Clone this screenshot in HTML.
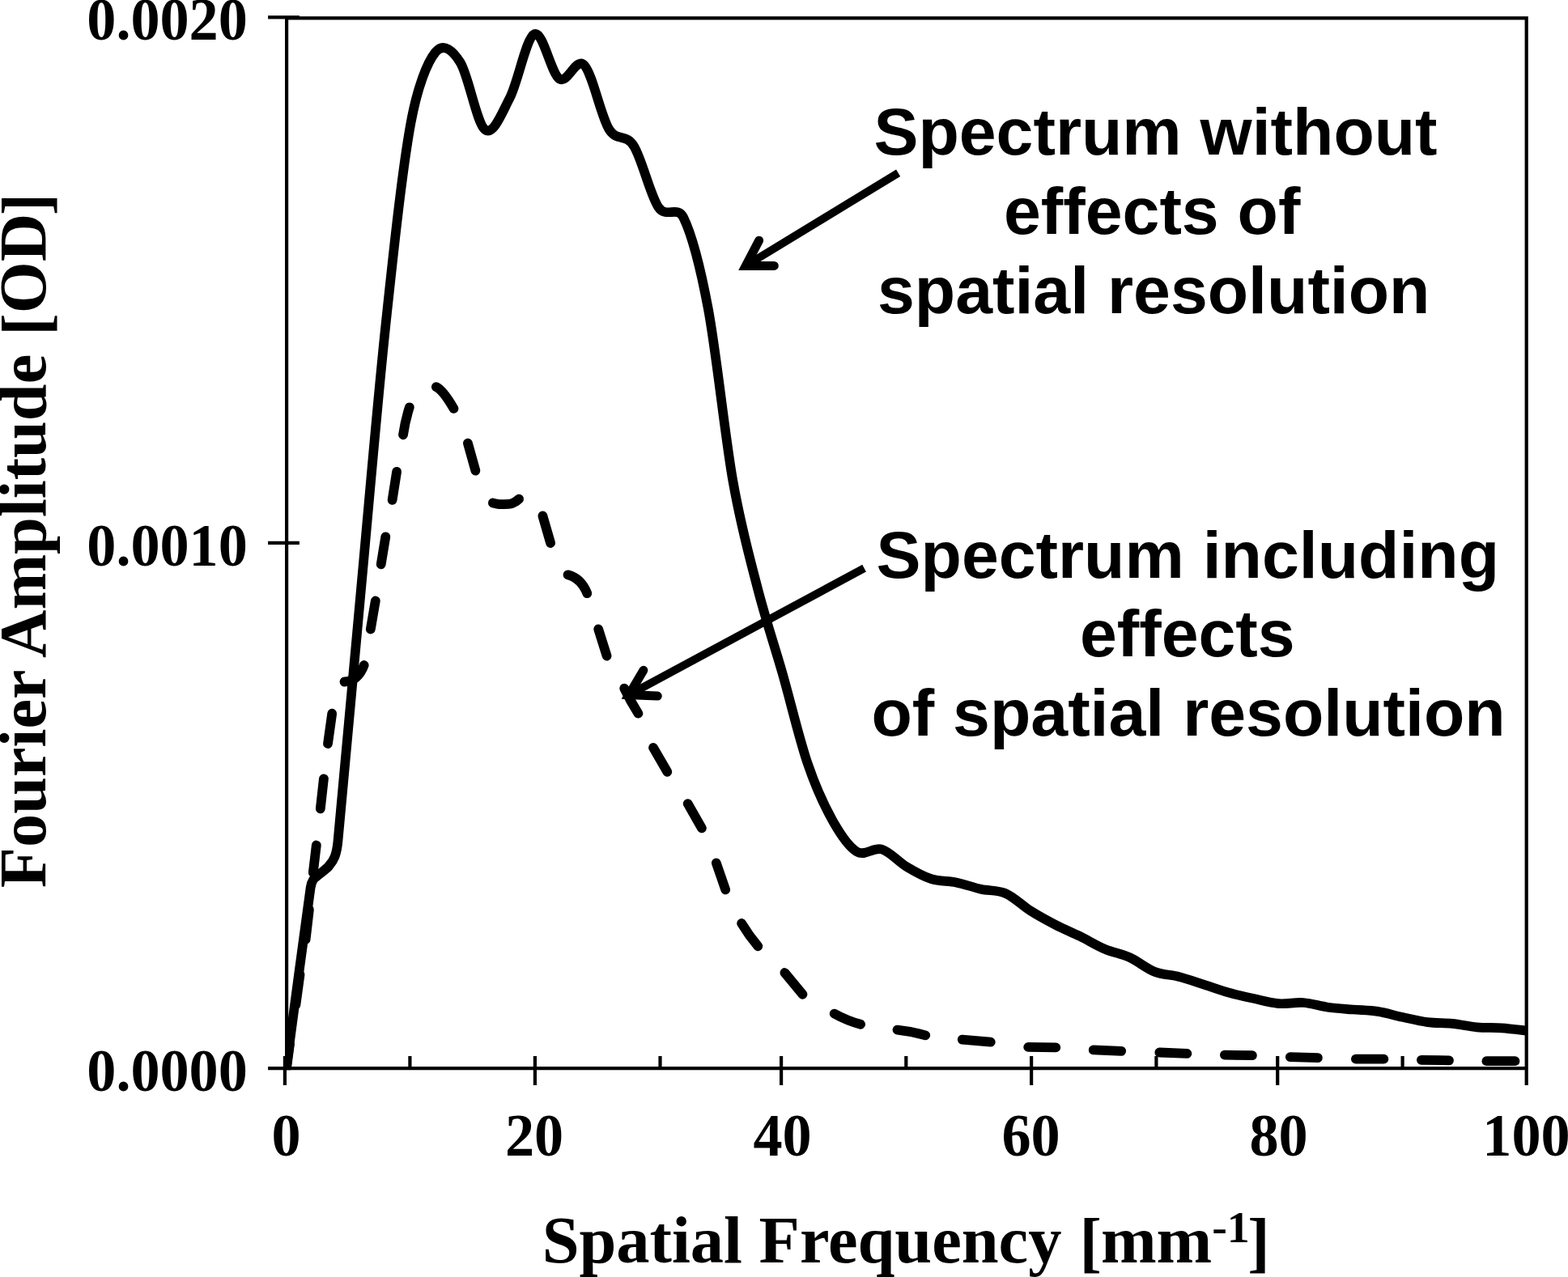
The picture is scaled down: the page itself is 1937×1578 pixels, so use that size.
<!DOCTYPE html>
<html><head><meta charset="utf-8"><title>Fourier Amplitude vs Spatial Frequency</title>
<style>html,body{margin:0;padding:0;background:#fff;overflow:hidden}svg{display:block}text{fill:#000}.ser{font-family:"Liberation Serif",serif;font-weight:bold}.san{font-family:"Liberation Sans",sans-serif;font-weight:bold}</style></head><body>
<svg width="1937" height="1578" viewBox="0 0 1937 1578">
<rect width="1937" height="1578" fill="#fff"/>

<g class="ser" font-size="72.2" text-anchor="end">
<text transform="translate(305.8 49.3) scale(1 1.02)">0.0020</text>
<text transform="translate(305.8 698.9) scale(1 1.02)">0.0010</text>
<text transform="translate(305.8 1347.5) scale(1 1.02)">0.0000</text>
</g>
<g class="ser" font-size="72.2" text-anchor="middle">
<text transform="translate(353.5 1427.8) scale(1 1.02)">0</text>
<text transform="translate(660 1427.8) scale(1 1.02)">20</text>
<text transform="translate(966.5 1427.8) scale(1 1.02)">40</text>
<text transform="translate(1273.5 1427.8) scale(1 1.02)">60</text>
<text transform="translate(1579.5 1427.8) scale(1 1.02)">80</text>
<text transform="translate(1885.5 1427.8) scale(1 1.02)">100</text>
</g>
<text class="ser" font-size="82.4" transform="translate(669.7 1559.8) scale(1 0.995)">Spatial Frequency <tspan dy="2.6" dx="1.5">[</tspan><tspan dy="-2.6" dx="-1">mm</tspan><tspan font-size="56" dy="-24.5">-1</tspan><tspan dy="27.1" dx="-2.6">]</tspan></text>
<text class="ser" font-size="82.35" transform="translate(56.2 1097.3) rotate(-90)">Fourier Amplitude <tspan dx="2.5" dy="3">[</tspan><tspan dy="-3">OD</tspan><tspan dx="-2.5" dy="3">]</tspan></text>
<g class="san" font-size="82.45" text-anchor="middle">
<text x="1427.5" y="191">Spectrum without</text>
<text x="1423.2" y="289">effects of</text>
<text x="1425.2" y="387">spatial resolution</text>
<text x="1467.3" y="713.6">Spectrum including</text>
<text x="1466.8" y="811.1">effects</text>
<text x="1468" y="909.1">of spatial resolution</text>
</g>

<g stroke="#000" stroke-width="4.20" fill="none" stroke-linecap="butt">
<path d="M354.1 22.4H1885.7V1341.0"/>
<path d="M354.1 20.3V1320.1"/>
<path d="M331.1 1320.1H1885.7"/>
<path d="M351.9 1305.0V1341.0"/>
<path d="M506.4 1305.0V1320.1"/>
<path d="M660.9 1305.0V1341.0"/>
<path d="M815.5 1305.0V1320.1"/>
<path d="M965.1 1305.0V1341.0"/>
<path d="M1119.3 1305.0V1320.1"/>
<path d="M1274.1 1305.0V1341.0"/>
<path d="M1428.4 1305.0V1320.1"/>
<path d="M1578.2 1305.0V1341.0"/>
<path d="M1732.6 1305.0V1320.1"/>
<path d="M331.1 670.9H369.9"/>
<path d="M331.1 21.4H369.9"/>
</g>
<clipPath id="plot"><rect x="352" y="20.3" width="1536" height="1302"/></clipPath>
<g clip-path="url(#plot)">
<g stroke="#000" stroke-width="11.80" fill="none" stroke-linecap="round" stroke-linejoin="round">
<path d="M354.0 1320.0L358.0 1290.0"/>
<path d="M365.4 1241.6L370.5 1204.4"/>
<path d="M377.6 1161.0L381.9 1123.9"/>
<path d="M386.8 1078.3L390.8 1044.5"/>
<path d="M395.8 999.4L399.9 962.3"/>
<path d="M405.0 919.0L410.2 881.7"/>
<path d="M425.5 842.5Q442.5 841.6 449.7 822.0"/>
<path d="M457.8 777.5L463.8 742.5"/>
<path d="M470.7 697.4L476.3 663.3"/>
<path d="M484.6 617.9L490.1 582.8"/>
<path d="M498.0 537.3Q500.5 520.0 505.8 503.3"/>
<path d="M538.9 478.1Q547.3 482.0 560.5 504.9"/>
<path d="M577.9 547.7L587.4 581.7"/>
<path d="M608.9 621.5C609.9 621.7 612.6 622.6 615.0 622.9C617.4 623.2 620.3 623.1 623.0 623.1C625.7 623.1 628.8 623.1 631.0 622.6C633.2 622.1 634.8 621.1 636.5 620.1C638.2 619.1 640.3 617.2 641.1 616.6"/>
<path d="M670.4 637.5L680.1 671.0"/>
<path d="M701.5 710.3Q717.8 714.6 725.3 733.2"/>
<path d="M739.2 777.5L749.6 810.5"/>
<path d="M771.2 850.6Q778.9 866.6 788.4 881.6"/>
<path d="M807.0 923.9L824.3 953.8"/>
<path d="M849.7 993.1L866.9 1023.4"/>
<path d="M884.8 1066.4L896.2 1099.4"/>
<path d="M916.1 1141.0Q925.1 1156.0 936.3 1169.3"/>
<path d="M969.4 1202.0L991.5 1228.8"/>
<path d="M1030.7 1252.6Q1046.1 1261.1 1063.1 1265.8"/>
<path d="M1108.5 1272.6Q1126.2 1274.4 1143.2 1279.4"/>
<path d="M1188.7 1284.6L1223.8 1287.7"/>
<path d="M1270.2 1293.9L1304.3 1294.3"/>
<path d="M1350.7 1297.4L1385.2 1298.8"/>
<path d="M1432.3 1300.5L1466.4 1301.9"/>
<path d="M1512.9 1303.6L1546.9 1304.2"/>
<path d="M1593.8 1306.2L1627.9 1307.1"/>
<path d="M1674.9 1308.7L1709.4 1308.7"/>
<path d="M1755.9 1309.8L1790.0 1310.4"/>
<path d="M1836.4 1311.2L1871.5 1311.2"/>
</g>
<path d="M353.60 1320.00C358.60 1282.83 378.03 1135.83 383.60 1097.00C384.35 1091.77 385.35 1089.63 387.00 1087.00C388.65 1084.37 390.33 1083.95 393.50 1081.20C396.67 1078.45 402.65 1074.28 406.00 1070.50C409.35 1066.72 411.70 1063.58 413.60 1058.50C415.50 1053.42 416.48 1049.40 417.40 1040.00C422.80 984.92 436.13 834.67 446.00 728.00C455.87 621.33 466.38 495.83 476.60 400.00C486.82 304.17 497.08 208.92 507.30 153.00C515.72 106.94 527.70 77.17 537.90 64.50C548.10 51.83 559.59 63.08 568.50 77.00C578.72 92.95 588.98 152.88 599.20 160.20C609.42 167.52 619.60 140.60 629.80 120.90C640.00 101.20 650.18 45.90 660.40 42.00C670.62 38.10 680.88 91.08 691.10 97.50C701.32 103.92 711.50 70.15 721.70 80.50C731.90 90.85 742.10 142.97 752.30 159.60C761.96 175.35 773.02 164.69 782.90 180.30C793.12 196.43 803.38 241.68 813.60 256.40C822.99 269.93 836.96 253.81 844.20 268.60C854.40 289.43 864.58 326.98 874.80 381.40C885.02 435.82 895.28 537.37 905.50 595.10C915.72 652.83 925.90 688.23 936.10 727.80C946.30 767.37 956.48 796.70 966.70 832.50C976.92 868.30 987.18 912.52 997.40 942.60C1007.62 972.68 1017.80 994.68 1028.00 1013.00C1038.20 1031.32 1048.38 1046.42 1058.60 1052.50C1068.82 1058.58 1079.08 1046.42 1089.30 1049.50C1099.52 1052.58 1109.70 1064.88 1119.90 1071.00C1130.10 1077.12 1140.28 1082.97 1150.50 1086.20C1160.72 1089.43 1170.98 1088.32 1181.20 1090.40C1191.42 1092.48 1201.60 1096.42 1211.80 1098.70C1222.00 1100.98 1232.18 1099.63 1242.40 1104.10C1252.62 1108.57 1262.88 1119.07 1273.10 1125.50C1283.32 1131.93 1293.50 1137.43 1303.70 1142.70C1313.90 1147.97 1324.08 1152.07 1334.30 1157.10C1344.52 1162.13 1354.78 1168.55 1365.00 1172.90C1375.22 1177.25 1385.40 1178.57 1395.60 1183.20C1405.80 1187.83 1415.98 1196.72 1426.20 1200.70C1436.42 1204.68 1446.68 1204.43 1456.90 1207.10C1467.12 1209.77 1477.30 1213.45 1487.50 1216.70C1497.70 1219.95 1507.90 1223.73 1518.10 1226.60C1528.30 1229.47 1538.48 1231.65 1548.70 1233.90C1558.92 1236.15 1569.18 1239.25 1579.40 1240.10C1589.62 1240.95 1599.80 1238.23 1610.00 1239.00C1620.20 1239.77 1630.38 1243.28 1640.60 1244.70C1650.82 1246.12 1661.08 1246.63 1671.30 1247.50C1681.52 1248.37 1691.70 1248.33 1701.90 1249.90C1712.10 1251.47 1722.28 1254.70 1732.50 1256.90C1742.72 1259.10 1752.98 1261.77 1763.20 1263.10C1773.42 1264.43 1783.60 1263.87 1793.80 1264.90C1804.00 1265.93 1814.18 1268.38 1824.40 1269.30C1834.62 1270.22 1844.88 1269.68 1855.10 1270.40C1865.32 1271.12 1880.60 1273.07 1885.70 1273.60" stroke="#000" stroke-width="11.70" fill="none" stroke-linejoin="round" stroke-linecap="butt"/>
</g>

<g stroke="#000" fill="none" stroke-linejoin="miter" stroke-miterlimit="10">
<path d="M1109.6 213.7L921.3 328.4" stroke-width="9.8"/>
<path d="M937.6 297.2L921.3 328.4L956.3 328.4" stroke-width="11" stroke-linecap="round"/>
<path d="M1067.6 702.1L777 858.6" stroke-width="9.8"/>
<path d="M794.9 828.3L777 858.6L812.3 860.1" stroke-width="11" stroke-linecap="round"/>
</g>

</svg></body></html>
